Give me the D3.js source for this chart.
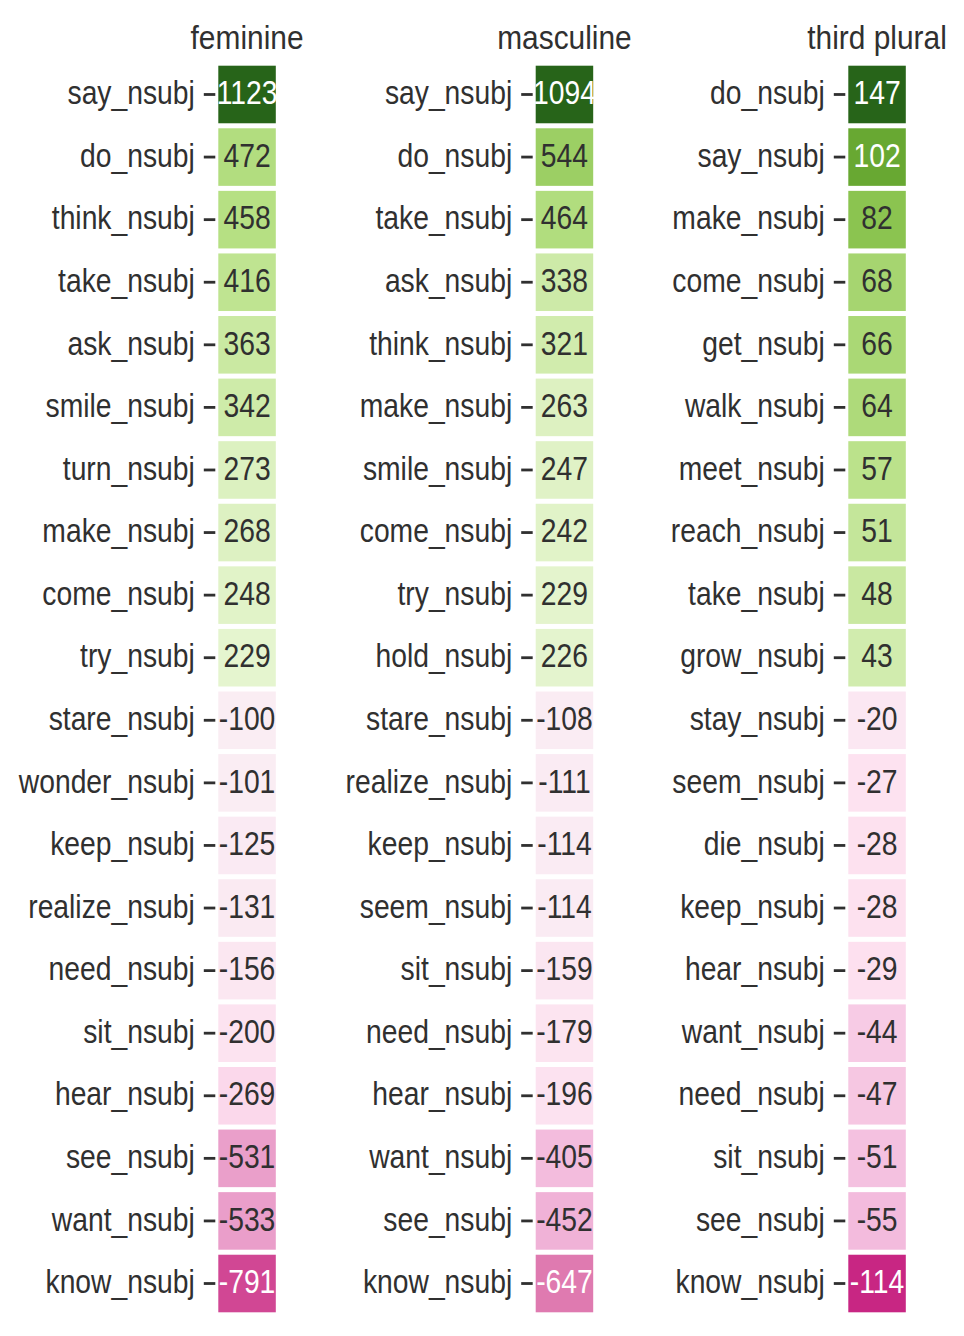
<!DOCTYPE html>
<html>
<head>
<meta charset="utf-8">
<script src="https://cdn.jsdelivr.net/npm/d3@7"></script>
<style>
  html, body { margin: 0; padding: 0; background: #ffffff; }
  svg { display: block; }
  text { font-family: "Liberation Sans", Arial, Helvetica, sans-serif; }
</style>
</head>
<body>
<svg id="chart" width="964" height="1336"></svg>
<script>
// ---------------- data ----------------
const panelTitles = ["feminine", "masculine", "third plural"];

const feminineLabels = ["say_nsubj","do_nsubj","think_nsubj","take_nsubj","ask_nsubj","smile_nsubj","turn_nsubj","make_nsubj","come_nsubj","try_nsubj","stare_nsubj","wonder_nsubj","keep_nsubj","realize_nsubj","need_nsubj","sit_nsubj","hear_nsubj","see_nsubj","want_nsubj","know_nsubj"];
const feminineValues = [1123,472,458,416,363,342,273,268,248,229,-100,-101,-125,-131,-156,-200,-269,-531,-533,-791];

const masculineLabels = ["say_nsubj","do_nsubj","take_nsubj","ask_nsubj","think_nsubj","make_nsubj","smile_nsubj","come_nsubj","try_nsubj","hold_nsubj","stare_nsubj","realize_nsubj","keep_nsubj","seem_nsubj","sit_nsubj","need_nsubj","hear_nsubj","want_nsubj","see_nsubj","know_nsubj"];
const masculineValues = [1094,544,464,338,321,263,247,242,229,226,-108,-111,-114,-114,-159,-179,-196,-405,-452,-647];

const thirdPluralLabels = ["do_nsubj","say_nsubj","make_nsubj","come_nsubj","get_nsubj","walk_nsubj","meet_nsubj","reach_nsubj","take_nsubj","grow_nsubj","stay_nsubj","seem_nsubj","die_nsubj","keep_nsubj","hear_nsubj","want_nsubj","need_nsubj","sit_nsubj","see_nsubj","know_nsubj"];
const thirdPluralValues = [147,102,82,68,66,64,57,51,48,43,-20,-27,-28,-28,-29,-44,-47,-51,-55,-114];

// matplotlib PiYG colormap anchor colours
const piygColors = ["#8e0152","#c51b7d","#de77ae","#f1b6da","#fde0ef","#f7f7f7","#e6f5d0","#b8e186","#7fbc41","#4d9221","#276419"];

// ---------------- layout ----------------
const panels = [
  { title: panelTitles[0], labels: feminineLabels, values: feminineValues, left: 218.3 },
  { title: panelTitles[1], labels: masculineLabels, values: masculineValues, left: 535.7 },
  { title: panelTitles[2], labels: thirdPluralLabels, values: thirdPluralValues, left: 848.3 }
];
const cellW = 57.5;
const gridTop = 65.7, gridBottom = 1312.3;
const textColor = "#303030";
const fontSize = 32.5;
const squeeze = 0.87;      // horizontal compression of glyphs seen in the reference
const baseShift = 9.7;     // baseline offset from cell centre
const tickLen = 11.5, tickPad = 9, axisGap = 3;

const svg = d3.select("#chart");

function luminance(c) {
  const rgb = d3.rgb(c);
  const lin = v => { v /= 255; return v <= 0.03928 ? v / 12.92 : Math.pow((v + 0.055) / 1.055, 2.4); };
  return 0.2126 * lin(rgb.r) + 0.7152 * lin(rgb.g) + 0.0722 * lin(rgb.b);
}

panels.forEach(p => {
  const idx = d3.range(p.values.length);
  const y = d3.scaleBand().domain(idx).range([gridTop, gridBottom]).paddingInner(0.08).paddingOuter(0);
  const x = d3.scaleBand().domain([p.title]).range([p.left, p.left + cellW]);

  const vmax = d3.max(p.values, v => Math.abs(v));
  const color = d3.scaleLinear()
    .domain(d3.range(piygColors.length).map(i => -vmax + 2 * vmax * i / (piygColors.length - 1)))
    .range(piygColors)
    .interpolate(d3.interpolateRgb)
    .clamp(true);

  const g = svg.append("g");

  // cells
  g.selectAll("rect.cell")
    .data(idx)
    .join("rect")
    .attr("class", "cell")
    .attr("x", x(p.title))
    .attr("y", i => y(i))
    .attr("width", x.bandwidth())
    .attr("height", y.bandwidth())
    .attr("fill", i => color(p.values[i]));

  // annotations
  const cx = x(p.title) + x.bandwidth() / 2;
  g.selectAll("text.val")
    .data(idx)
    .join("text")
    .attr("class", "val")
    .attr("transform", i => `translate(${cx},${y(i) + y.bandwidth() / 2 + baseShift}) scale(${squeeze},1)`)
    .attr("text-anchor", "middle")
    .attr("font-size", fontSize)
    .attr("fill", i => luminance(color(p.values[i])) > 0.408 ? textColor : "#ffffff")
    .text(i => p.values[i]);

  // y axis with tick labels
  const yAxisScale = d3.scaleBand().domain(p.labels).range([gridTop, gridBottom]).paddingInner(0.08).paddingOuter(0);
  const axis = d3.axisLeft(yAxisScale).tickSize(tickLen).tickPadding(tickPad).tickSizeOuter(0);
  const ag = svg.append("g")
    .attr("transform", `translate(${p.left - axisGap},0)`)
    .call(axis);
  ag.select(".domain").remove();
  ag.selectAll(".tick line").attr("stroke", textColor).attr("stroke-width", 2.8);
  ag.selectAll(".tick text")
    .attr("font-size", fontSize)
    .attr("font-family", "'Liberation Sans', Arial, sans-serif")
    .attr("fill", textColor)
    .attr("dy", null)
    .attr("x", 0)
    .attr("y", 0)
    .attr("transform", `translate(${-(tickLen + tickPad)},${baseShift}) scale(${squeeze},1)`);

  // title
  svg.append("text")
    .attr("transform", `translate(${cx},48.5) scale(0.92,1)`)
    .attr("text-anchor", "middle")
    .attr("font-size", 32.5)
    .attr("fill", textColor)
    .text(p.title);
});
</script>
</body>
</html>
